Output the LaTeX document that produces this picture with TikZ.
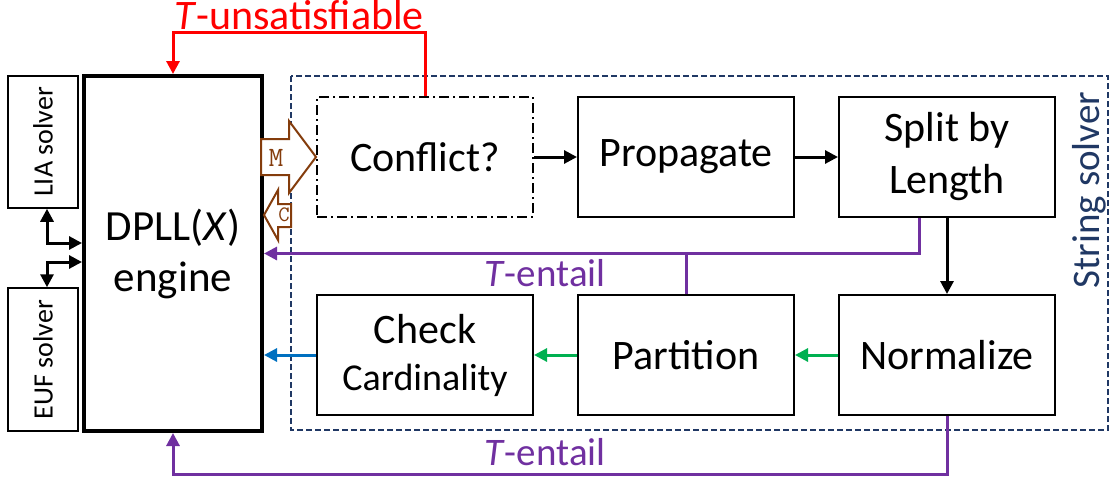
\documentclass[tikz,border=0pt]{standalone}
\usepackage{fontspec}
\setmainfont{Carlito}
\usetikzlibrary{arrows.meta}

\definecolor{unsatred}{HTML}{FF0000}
\definecolor{entpurple}{HTML}{7030A0}
\definecolor{flowgreen}{HTML}{00B050}
\definecolor{cardblue}{HTML}{0070C0}
\definecolor{mcbrown}{HTML}{843C0C}
\definecolor{strnavy}{HTML}{203864}

\tikzset{
  stage/.style={draw, line width=2pt, minimum width=216pt, minimum height=120pt,
    align=center, inner sep=0pt, font=\fontsize{42}{52}\selectfont},
  solver/.style={draw, line width=1.5pt, rotate=90, inner sep=0pt,
    minimum height=70pt, font=\fontsize{28}{32}\selectfont},
  con/.style={line width=3pt, -{Triangle[length=13pt,width=13pt]}},
  ent/.style={con, color=entpurple},
  lbl/.style={anchor=base, font=\fontsize{39}{44}\selectfont},
  blockarrow/.style={draw=mcbrown, line width=2pt, fill=white, line join=miter},
}

\begin{document}
\begin{tikzpicture}[x=1pt, y=-1pt]
  \useasboundingbox (0,0) rectangle (1113,480);

  % string solver frame
  \draw[strnavy, line width=2pt, dash pattern=on 6pt off 3pt] (291,76) rectangle (1108,430);
  \node[rotate=90, text=strnavy, font=\fontsize{39}{44}\selectfont] (strlbl) at (1089,190) {String solver};

  % DPLL(X) and the other theory solvers
  \node[draw, line width=4pt, minimum width=178pt, minimum height=355pt, align=center,
    font=\fontsize{43}{51}\selectfont] (dpll) at (173,253.5) {DPLL(\textit{X})\\engine};
  \node[solver, minimum width=132pt] (lia) at (43,142) {LIA solver};
  \node[solver, minimum width=143pt] (euf) at (43,359.5) {EUF solver};

  % stages
  \node[stage, dash pattern=on 10pt off 4pt on 2pt off 4pt] (conflict) at (425,157) {Conflict?};
  \node[stage] (prop) at (686,157) {Propagate};
  \node[stage] (split) at (947,157) {Split by\\Length};
  \node[stage] (norm) at (947,355) {Normalize};
  \node[stage] (part) at (686,355) {Partition};
  \node[stage] (card) at (425,355) {Check\\[-5pt]{\fontsize{38}{44}\selectfont Cardinality}};

  % model / conflict exchange
  \draw[blockarrow] (conflict.west) -- ++(-27,-36) -- ++(0,18) -- ++(-28,0)
    -- ++(0,36) -- ++(28,0) -- ++(0,18) -- cycle;
  \node[text=mcbrown, font=\ttfamily\fontsize{28}{30}\selectfont] (mlbl) at (276,158) {M};
  \draw[blockarrow] (264,215) -- ++(14,-25) -- ++(0,14) -- ++(13,0)
    -- ++(0,23) -- ++(-13,0) -- ++(0,13) -- cycle;
  \node[text=mcbrown, font=\ttfamily\fontsize{22}{24}\selectfont] (clbl) at (284,215) {C};

  % solver links
  \draw[con, {Triangle[length=13pt,width=13pt]}-{Triangle[length=13pt,width=13pt]}]
    ([xshift=4pt]lia.west) |- ([yshift=10.5pt]dpll.west);
  \draw[con, {Triangle[length=13pt,width=13pt]}-{Triangle[length=13pt,width=13pt]}]
    ([xshift=4pt]euf.east) |- ([yshift=-8.5pt]dpll.west);

  % main flow
  \draw[con] (conflict) -- (prop);
  \draw[con] (prop) -- (split);
  \draw[con] (split) -- (norm);
  \draw[con, flowgreen] (norm) -- (part);
  \draw[con, flowgreen] (part) -- (card);
  \draw[con, cardblue] (card.west) -- (card.west -| dpll.east);

  % entailments and conflicts back to the engine
  \draw[ent] ([xshift=-28pt]split.south) |- (dpll.east);
  \draw[line width=3pt, entpurple] (part.north) -- (part.north |- dpll.east);
  \node[lbl, text=entpurple] (ent1) at (545,286) {\textit{T}-entail};
  \draw[ent] (norm.south) -- ++(0,58) -| (dpll.south);
  \node[lbl, text=entpurple] (ent2) at (545,465) {\textit{T}-entail};
  \draw[con, unsatred] (conflict.north) -- ++(0,-64) -| (dpll.north);
  \node[lbl, text=unsatred, font=\fontsize{42}{48}\selectfont] (unsat) at (299,29.5) {\textit{T}-unsatisfiable};
\end{tikzpicture}
\end{document}
